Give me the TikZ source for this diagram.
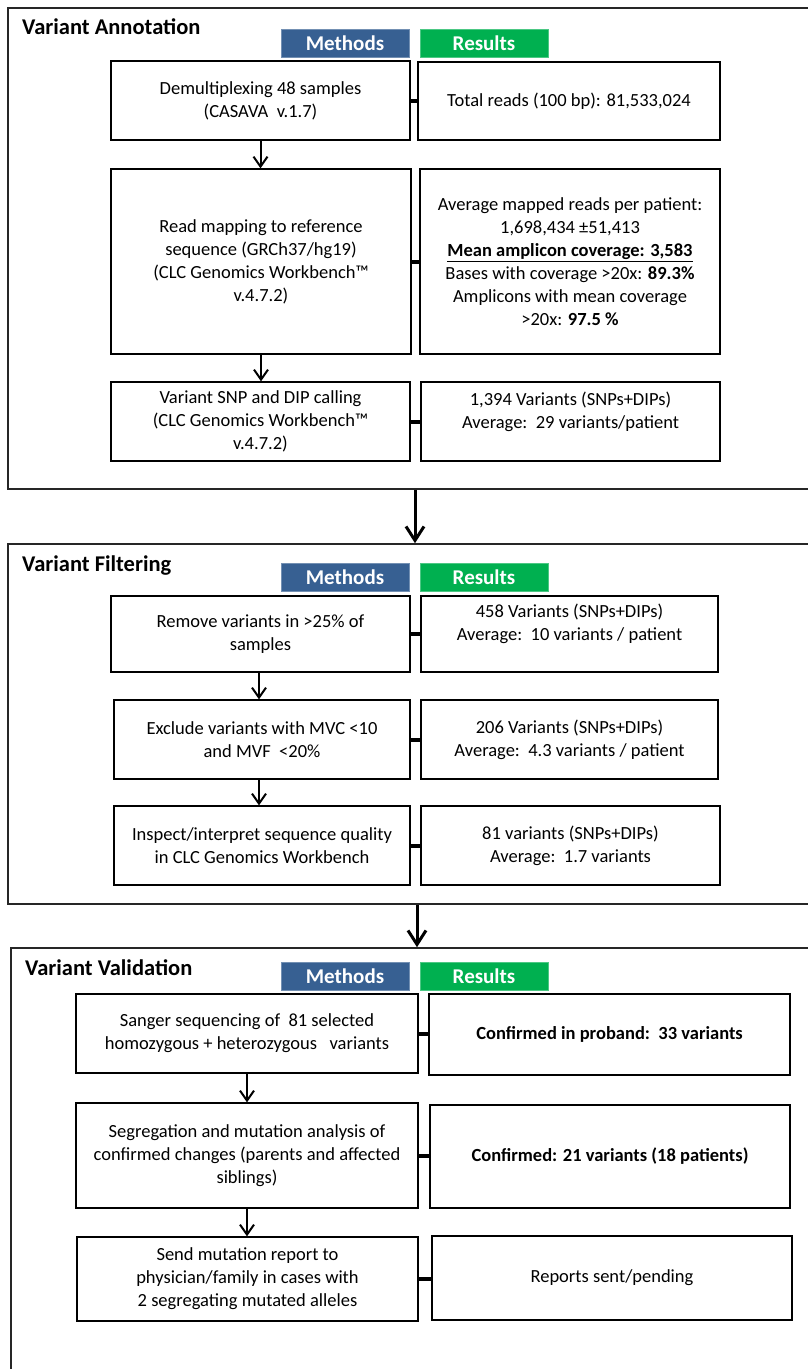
\documentclass[tikz,border=0pt]{standalone}
\usepackage{fontspec}
\setmainfont{Carlito}
\usetikzlibrary{arrows.meta}
\definecolor{mblue}{HTML}{376092}
\definecolor{rgreen}{HTML}{00B050}
\begin{document}
\begin{tikzpicture}[x=1pt,y=-1pt,
  panel/.style={draw=black!85, line width=1.6pt, inner sep=0pt},
  mbox/.style={draw=black, line width=1.3pt, align=center, inner sep=0pt,
    font=\fontsize{18.5}{23}\selectfont},
  tag/.style={font=\fontsize{21}{25}\selectfont\bfseries, text=white,
    minimum width=128pt, minimum height=28pt, inner sep=0pt},
  title/.style={font=\fontsize{22.5}{26}\selectfont\bfseries, anchor=west, inner sep=0pt},
  link/.style={line width=4pt},
  flow/.style={line width=2pt, -{Straight Barb[length=10pt,width=14pt]}},
  bigflow/.style={line width=3pt, -{Straight Barb[length=14pt,width=18pt]}}]
\useasboundingbox (0,0) rectangle (808,1369);
\clip (0,0) rectangle (808,1369);

% ---------- panels ----------
\node[panel, minimum width=822pt, minimum height=481pt] (P1) at (419,248.5) {};
\node[panel, minimum width=822pt, minimum height=360pt] (P2) at (419,724) {};
\node[panel, minimum width=819pt, minimum height=452pt] (P3) at (420.5,1174) {};

\draw[bigflow] (P1.south -| 415,0) -- (P2.north -| 415,0);
\draw[bigflow] (P2.south -| 417,0) -- (P3.north -| 417,0);

% ---------- panel 1 ----------
\node[title] (t1) at (22,27) {Variant Annotation};
\node[tag, fill=mblue, draw=mblue!70!white, line width=0.6pt] (m1) at (345,43) {Methods};
\node[tag, fill=rgreen, draw=rgreen!70!white, line width=0.6pt] (r1) at (484,43) {Results};

\node[mbox, minimum width=299pt, minimum height=79pt] (a1) at (260.5,100.5)
  {Demultiplexing 48 samples\\(CASAVA\ \ v.1.7)};
\node[mbox, minimum width=302pt, minimum height=78pt] (ra1) at (569,101)
  {Total reads (100 bp): 81,533,024};
\node[mbox, minimum width=300pt, minimum height=185pt] (a2) at (261,261.5)
  {Read mapping to reference\\sequence (GRCh37/hg19)\\(CLC Genomics Workbench™\\v.4.7.2)};
\node[mbox, minimum width=300pt, minimum height=185pt] (ra2) at (570,261.5)
  {Average mapped reads per patient:\\1,698,434 ±51,413\\\textbf{\underline{Mean amplicon coverage: 3,583}}\\Bases with coverage >20x: \textbf{89.3\%}\\Amplicons with mean coverage\\>20x: \textbf{97.5 \%}};
\node[mbox, minimum width=299pt, minimum height=79pt] (a3) at (260.5,421.5)
  {Variant SNP and DIP calling\\(CLC Genomics Workbench™\\v.4.7.2)};
\node[mbox, minimum width=299pt, minimum height=79pt] (ra3) at (570.5,421.5)
  {1,394 Variants (SNPs+DIPs)\\Average:\ \ 29 variants/patient\\\mbox{}};

\draw[link] (a1.east) -- (a1.east -| ra1.west);
\draw[link] (a2.east) -- (a2.east -| ra2.west);
\draw[link] (a3.east) -- (a3.east -| ra3.west);
\draw[flow] (a1.south) -- (a1.south |- a2.north);
\draw[flow] (a2.south) -- (a2.south |- a3.north);

% ---------- panel 2 ----------
\node[title] (t2) at (22,566) {Variant Filtering};
\node[tag, fill=mblue, draw=mblue!70!white, line width=0.6pt] (m2) at (345,577) {Methods};
\node[tag, fill=rgreen, draw=rgreen!70!white, line width=0.6pt] (r2) at (484,577) {Results};

\node[mbox, minimum width=299pt, minimum height=76pt] (f1) at (260.5,634)
  {Remove variants in >25\% of\\samples};
\node[mbox, minimum width=297pt, minimum height=76pt] (rf1) at (569.5,634)
  {458 Variants (SNPs+DIPs)\\Average:\ \ 10 variants / patient\\\mbox{}};
\node[mbox, minimum width=296pt, minimum height=79pt] (f2) at (262,739.5)
  {Exclude variants with MVC <10\\and MVF\ \ <20\%};
\node[mbox, minimum width=297pt, minimum height=79pt] (rf2) at (569.5,739.5)
  {206 Variants (SNPs+DIPs)\\Average:\ \ 4.3 variants / patient};
\node[mbox, minimum width=296pt, minimum height=79pt] (f3) at (262,845.5)
  {Inspect/interpret sequence quality\\in CLC Genomics Workbench};
\node[mbox, minimum width=299pt, minimum height=79pt] (rf3) at (570.5,845.5)
  {81 variants (SNPs+DIPs)\\Average:\ \ 1.7 variants};

\draw[link] (f1.east) -- (f1.east -| rf1.west);
\draw[link] (f2.east) -- (f2.east -| rf2.west);
\draw[link] (f3.east) -- (f3.east -| rf3.west);
\draw[flow] (f1.south -| 259,0) -- (f2.north -| 259,0);
\draw[flow] (f2.south -| 259,0) -- (f3.north -| 259,0);

% ---------- panel 3 ----------
\node[title] (t3) at (25,968) {Variant Validation};
\node[tag, fill=mblue, draw=mblue!70!white, line width=0.6pt] (m3) at (345,976.5) {Methods};
\node[tag, fill=rgreen, draw=rgreen!70!white, line width=0.6pt] (r3) at (484,976.5) {Results};

\node[mbox, minimum width=342pt, minimum height=79pt] (v1) at (247,1033.5)
  {Sanger sequencing of\ \ 81 selected\\homozygous + heterozygous\ \ \ variants};
\node[mbox, minimum width=361pt, minimum height=81pt] (rv1) at (609.5,1034.5)
  {\textbf{Confirmed in proband:\ \ 33 variants}};
\node[mbox, minimum width=342pt, minimum height=105pt] (v2) at (247,1155.5)
  {Segregation and mutation analysis of\\confirmed changes (parents and affected\\siblings)};
\node[mbox, minimum width=360pt, minimum height=103pt] (rv2) at (610,1156.5)
  {\textbf{Confirmed: 21 variants (18 patients)}};
\node[mbox, minimum width=341pt, minimum height=84pt] (v3) at (247.5,1279)
  {Send mutation report to\\physician/family in cases with\\2 segregating mutated alleles};
\node[mbox, minimum width=360pt, minimum height=84pt] (rv3) at (612,1278)
  {Reports sent/pending};

\draw[link] (v1.east) -- (v1.east -| rv1.west);
\draw[link] (v2.east) -- (v2.east -| rv2.west);
\draw[link] (v3.east) -- (v3.east -| rv3.west);
\draw[flow] (v1.south) -- (v1.south |- v2.north);
\draw[flow] (v2.south) -- (v2.south |- v3.north);
\end{tikzpicture}
\end{document}
